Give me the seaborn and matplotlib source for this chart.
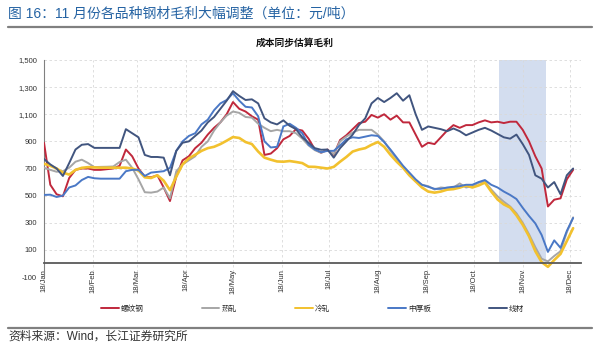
import matplotlib
matplotlib.use("Agg")
import matplotlib.pyplot as plt
import matplotlib.dates as mdates
from matplotlib.lines import Line2D
from matplotlib.ticker import FuncFormatter, MultipleLocator
import numpy as np
import pandas as pd
import seaborn as sns

# Sampling dates (every 4 days through 2018)
dates = pd.date_range("2018-01-01", periods=85, freq="4D")

series_names = ["螺纹钢", "热轧", "冷轧", "中厚板", "线材"]
series_colors = ["#c0283c", "#a6a6a6", "#f2c12e", "#4a78c6", "#41557f"]

rebar = [890, 580, 510, 495, 630, 690, 700, 700, 690, 690, 695, 700, 720, 840, 790,
         700, 640, 635, 650, 560, 460, 640, 760, 790, 850, 890, 950, 1000, 1040, 1100,
         1190, 1140, 1120, 1085, 1060, 800, 810, 850, 915, 940, 990, 980, 920, 840, 816,
         840, 800, 910, 945, 990, 1035, 1045, 1095, 1075, 1100, 1060, 1090, 1040, 1040, 950,
         860, 890, 880, 930, 980, 1020, 1000, 1020, 1020, 1040, 1055, 1040, 1045, 1035, 1045,
         1045, 985, 900, 790, 700, 420, 470, 480, 620, 690]

hot_rolled = [706, 690, 676, 680, 706, 750, 765, 740, 710, 712, 713, 715, 748, 765, 705,
              620, 525, 522, 530, 560, 480, 680, 730, 760, 790, 860, 900, 980, 1040, 1090,
              1120, 1110, 1080, 1075, 1030, 1000, 975, 985, 975, 975, 960, 920, 870, 835, 816,
              835, 805, 900, 935, 965, 985, 985, 985, 950, 900, 830, 770, 710, 650, 605,
              580, 570, 545, 560, 555, 560, 590, 560, 570, 595, 603, 545, 495, 455, 420,
              370, 300, 215, 120, 35, 15, 55, 90, 230, 340]

cold_rolled = [735, 720, 700, 670, 655, 690, 705, 710, 708, 706, 706, 706, 706, 706, 700,
               685, 635, 630, 650, 610, 540, 640, 730, 775, 801, 830, 850, 860, 880, 905,
               932, 925, 895, 880, 825, 780, 765, 752, 750, 755, 748, 740, 713, 712, 706,
               700, 712, 750, 785, 825, 840, 850, 875, 895, 860, 801, 750, 705, 650, 605,
               560, 530, 522, 530, 544, 548, 559, 575, 560, 575, 596, 530, 472, 435, 412,
               355, 285, 200, 90, 10, -25, 25, 70, 165, 260]

plate = [505, 507, 490, 500, 560, 575, 615, 638, 628, 625, 625, 625, 625, 680, 690,
         690, 645, 670, 675, 680, 705, 830, 900, 940, 960, 1025, 1060, 1130, 1180, 1205,
         1255, 1200, 1155, 1150, 1085, 900, 855, 860, 1010, 1030, 1000, 960, 875, 840, 820,
         830, 830, 870, 915, 930, 925, 935, 945, 940, 895, 840, 780, 720, 670, 620,
         580, 565, 550, 550, 560, 565, 570, 580, 580, 600, 615, 580, 560, 530, 505,
         475, 410, 350, 295, 210, 85, 170, 115, 240, 335]

wire_rod = [770, 730, 700, 645, 740, 840, 875, 880, 852, 852, 852, 852, 852, 990, 960,
            930, 800, 785, 785, 780, 650, 830, 890, 900, 940, 980, 1040, 1080, 1140, 1200,
            1270, 1235, 1205, 1210, 1180, 1070, 1040, 1025, 1055, 1015, 990, 930, 890, 850, 838,
            840, 780, 850, 900, 950, 1020, 1070, 1180, 1220, 1190, 1220, 1255, 1200, 1240, 1100,
            985, 1010, 1000, 990, 975, 995, 975, 945, 965, 985, 1000, 980, 955, 930, 920,
            950, 880, 800, 650, 625, 560, 600, 510, 650, 700]

y_ticks = list(range(-100, 1501, 200))
shade_start, shade_end = pd.Timestamp("2018-10-17"), pd.Timestamp("2018-11-16")

df = pd.DataFrame({"date": dates, "螺纹钢": rebar, "热轧": hot_rolled, "冷轧": cold_rolled,
                   "中厚板": plate, "线材": wire_rod})
long_df = df.melt(id_vars="date", var_name="品种", value_name="毛利")

sns.set_style("white")
plt.rcParams["font.family"] = ["Liberation Sans", "Noto Sans CJK SC", "DejaVu Sans"]

fig = plt.figure(figsize=(6.0, 3.44), dpi=100)
W, H = 600, 344
ax = fig.add_axes([44 / W, 1 - 277 / H, (581 - 44) / W, (277 - 60) / H])

ax.axvspan(shade_start, shade_end, ymin=100 / 1600, ymax=1.0, color="#d3ddef", lw=0, zorder=0)

for name, color in zip(series_names, series_colors):
    sub = long_df[long_df["品种"] == name]
    sns.lineplot(data=sub, x="date", y="毛利", ax=ax, color=color,
                 linewidth=1.9 if name == "冷轧" else 1.4, label=name, legend=False, zorder=3)

ax.set_xlim(pd.Timestamp("2018-01-01"), pd.Timestamp("2018-12-08"))
ax.set_ylim(-100, 1500)
ax.set_yticks(y_ticks)
ax.yaxis.set_major_formatter(FuncFormatter(lambda v, p: f"{int(v):,}"))
ax.xaxis.set_major_locator(mdates.MonthLocator())
ax.xaxis.set_major_formatter(mdates.DateFormatter("%y/%b"))
ax.set_xlabel("")
ax.set_ylabel("")

ax.grid(True, which="major", color="#d9d9d9", linestyle=(0, (3, 3)), linewidth=0.6)
ax.set_axisbelow(True)
for s in ["top", "right"]:
    ax.spines[s].set_visible(False)
ax.spines["left"].set_color("#808080")
ax.spines["left"].set_linewidth(0.8)
ax.spines["bottom"].set_position(("data", 0))
ax.spines["bottom"].set_color("#595959")
ax.spines["bottom"].set_linewidth(1.3)
ax.spines["bottom"].set_zorder(4)

ax.tick_params(axis="y", labelsize=5.5, length=3, width=0.6, color="#808080", pad=2,
               labelcolor="#333333")
ax.tick_params(axis="x", labelsize=5.5, length=2.5, width=0.6, color="#595959", pad=1.5,
               labelcolor="#333333", labelrotation=90)

handles = [Line2D([0], [0], color=c, lw=1.4) for c in series_colors]
fig.legend(handles, series_names, loc="center", bbox_to_anchor=(0.521, 1 - 309 / H), ncol=5,
           frameon=False, fontsize=5.5, handlelength=2.3, handletextpad=0.3, columnspacing=7.6)

fig.text(8 / W, 1 - 14 / H, "图 16：11 月份各品种钢材毛利大幅调整（单位：元/吨）",
         fontsize=10, color="#2563a3", va="center", ha="left")
fig.add_artist(Line2D([8 / W, 592 / W], [1 - 27 / H] * 2, color="#808080", lw=1.6))
fig.text(0.492, 1 - 43 / H, "成本同步估算毛利", fontsize=7, fontweight="bold",
         ha="center", va="center", color="#111111")
fig.add_artist(Line2D([8 / W, 592 / W], [1 - 328 / H] * 2, color="#808080", lw=1.6))
fig.text(8 / W, 1 - 337 / H, "资料来源：Wind，长江证券研究所", fontsize=8.5,
         color="#333333", va="center", ha="left")

fig.savefig("out.png", dpi=100)
